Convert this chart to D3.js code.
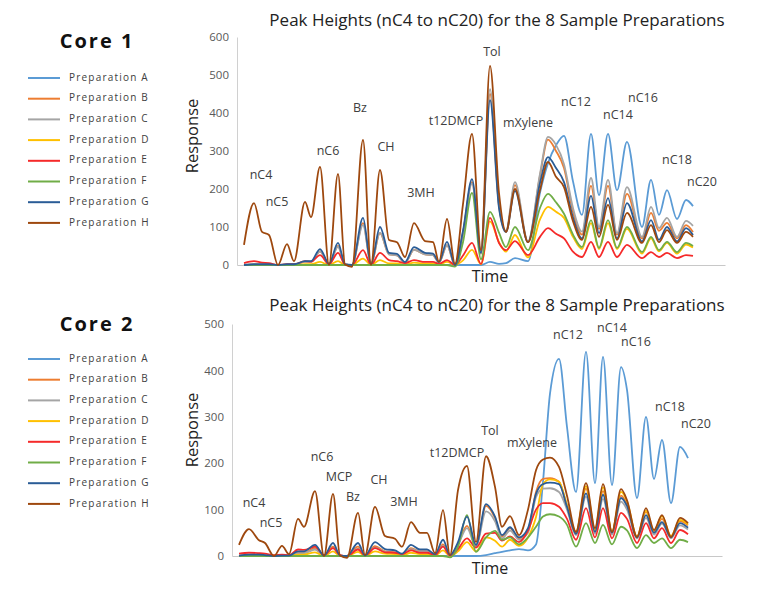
<!DOCTYPE html>
<html><head><meta charset="utf-8">
<script src="https://cdn.jsdelivr.net/npm/d3@7"></script>
<style>body{margin:0;background:#fff;} svg{display:block;font-family:"Open Sans",sans-serif;}</style>
</head><body>
<script>
const seriesNames = ["Preparation A","Preparation B","Preparation C","Preparation D","Preparation E","Preparation F","Preparation G","Preparation H"];
const colors = ["#5b9bd5","#ed7d31","#a5a5a5","#ffc000","#f52a2a","#70ad47","#2a5c96","#9e480e"];

// ---------- Core 1 ----------
const times1 = [7,17,25,32,41,50,57,68,74,83,92,101,108,115,126,134,143,152,160,168,177,188,196,202,210,218,226,235,244,253,262,269,278,291,303,311,319,327,336,345,354,362,371,380,390,405,414,422,430,440,449,456];
const c1A = [0,0,0,0,0,0,0,0,0,0,0,0,0,0,0,0,0,0,0,0,0,0,0,0,0,0,0,0,0, 8,3,5,18,10,190,268,315,340,220,132,345,184,345,197,324,100,224,132,197,121,171,155];
const c1B = [0,1,1,1,0,1,1,8,8,36,2,50,1,0,110,2,84,28,25,6,40,28,26,6,52,0,85,218,30,450,155,88,210,60,235,330,300,255,140,80,208,95,208,80,187,70,137,90,111,70,105,87];
const c1C = [0,1,1,1,0,1,1,8,8,35,2,48,1,0,105,2,85,28,25,6,40,28,26,6,52,0,85,215,30,463,160,90,218,62,240,337,316,265,150,88,229,100,224,84,205,74,153,97,124,74,116,103];
const c1D = [0,1,1,1,0,0,0,2,2,8,0,10,0,0,17,0,13,4,4,1,6,4,4,1,8,0,12,40,2,115,60,35,79,20,120,153,140,124,74,42,110,42,110,42,95,30,70,36,58,30,54,46];
const c1E = [5,10,6,5,0,2,2,10,9,26,2,32,1,0,39,1,32,13,10,5,13,8,8,3,13,0,25,58,3,124,58,39,63,26,74,97,82,70,35,21,61,21,61,21,53,18,34,21,32,18,26,24];
const c1F = [0,0,0,0,0,0,0,0,0,0,0,0,0,0,0,0,0,0,0,0,0,0,0,0,0, -4,60,190,15,140,85,47,100,39,150,187,165,135,80,47,118,45,118,45,100,34,74,39,61,34,58,50];
const c1G = [0,2,2,2,0,2,2,10,10,42,3,58,2,0,124,2,100,32,29,8,47,32,30,8,61,0,90,226,32,434,150,87,195,60,216,284,255,218,125,70,182,84,176,70,163,62,118,66,100,62,97,79];
const c1H = [53,163,87,79,0,55,10,166,126,258,0,240,1,-5,329,0,250,66,60,21,110,63,60,8,121,3,160,345,39,524,189,87,200,60,197,271,232,205,115,66,153,74,158,66,137,58,105,60,92,58,87,74];
const ticks1 = [0,100,200,300,400,500,600];
const peaks1 = ["nC4","nC5","nC6","Bz","CH","3MH","t12DMCP","Tol","mXylene","nC12","nC14","nC16","nC18","nC20"];
const peakPos1 = [[24,234],[40,163],[91,297],[123,411],[149,308],[184,189],[219,376],[255,558],[291,371],[339,426],[381,392],[406,439],[440,274],[465,218]];

// ---------- Core 2 ----------
const times2 = [7,17,27,33,42,50,57,66,72,83,92,101,108,115,126,133,143,153,163,170,179,188,195,203,211,218,226,235,244,254,263,270,278,287,296,304,311,318,327,335,344,354,363,371,380,389,395,405,414,422,430,439,448,456];
const c2A = [0,0,0,0,0,0,0,0,0,0,0,0,0,0,0,0,0,0,0,0,0,0,0,0,0,0,0,0,0, 2,6,9,12,15,12,25,160,350,425,278,138,440,157,429,153,407,358,125,300,166,250,114,235,211];
const c2B = [0,2,2,1,0,1,1,7,7,17,1,20,1,0,20,1,21,10,8,3,17,10,10,3,25,1,25,65,22,108,82,42,60,38,55,138,166,168,160,108,50,145,55,140,52,130,112,42,95,52,80,42,75,66];
const c2C = [0,1,1,1,0,1,1,6,6,14,1,17,1,0,16,1,18,9,7,3,15,9,9,2,22,1,24,60,20,96,75,38,55,35,50,127,145,146,138,100,45,128,48,123,46,117,100,38,82,46,70,38,66,57];
const c2D = [0,1,1,1,0,0,0,3,3,8,0,10,0,0,9,0,10,5,4,1,7,4,4,1,12,0,10,30,10,40,33,20,35,22,40,84,155,165,160,110,52,150,57,148,52,138,118,42,98,54,86,43,78,68];
const c2E = [5,7,6,5,2,3,2,14,13,20,2,17,2,0,14,1,17,8,7,4,12,7,7,2,20,1,15,38,18,48,50,33,42,30,55,100,114,114,106,80,35,103,40,103,38,93,80,28,71,38,60,28,56,47];
const c2F = [0,0,0,0,0,0,0,0,0,0,0,0,0,0,0,0,0,0,0,0,0,0,0,0,0, -3,20,88,9,40,54,35,40,25,40,63,85,90,85,67,20,71,28,67,25,63,55,17,45,28,38,17,35,30];
const c2G = [1,3,3,2,0,1,1,10,10,24,1,28,1,0,28,1,30,15,12,5,24,14,14,4,35,2,30,85,24,112,85,45,62,40,60,134,155,158,155,106,48,135,52,132,50,125,108,40,88,50,73,40,71,61];
const c2H = [24,58,34,28,0,22,4,80,63,140,0,134,1,-4,93,2,106,43,37,20,73,50,50,6,99,2,142,194,30,215,149,63,86,45,100,185,208,212,192,130,52,157,60,155,52,144,120,41,103,56,88,41,82,71];
const ticks2 = [0,100,200,300,400,500];
const peaks2 = ["nC4","nC5","nC6","MCP","Bz","CH","3MH","t12DMCP","Tol","mXylene","nC12","nC14","nC16","nC18","nC20"];
const peakPos2 = [[22,113],[39,70],[90,212],[107,169],[121,125],[147,162],[172,115],[225,221],[258,267],[300,243],[336,475],[380,491],[404,460],[438,320],[464,283]];

const W = 760, H = 590;
const svg = d3.select("body").append("svg").attr("width", W).attr("height", H);

function panel(opt) {
  const {times, series, ticks, peaks, peakPos, x0, x1, y0, y1, ymax, title, titleY, core, coreY, legY, respY, timeY} = opt;
  const x = d3.scaleLinear().domain([0, x1 - x0]).range([x0, x1]);
  const y = d3.scaleLinear().domain([0, ymax]).range([y0, y1]);
  const g = svg.append("g");

  const ya = g.append("g").attr("transform", `translate(${x0},0)`)
    .call(d3.axisLeft(y).tickValues(ticks).tickSize(0).tickPadding(8).tickSizeOuter(0));
  ya.select(".domain").attr("stroke", "#d0d0d0").attr("stroke-width", 1);
  ya.selectAll("text").attr("fill", "#595959").style("font-size", "11.5px").style("font-family", "Open Sans, sans-serif");
  const xa = g.append("g").attr("transform", `translate(0,${y0})`)
    .call(d3.axisBottom(x).tickValues([]).tickSizeOuter(0));
  xa.select(".domain").attr("stroke", "#c8c8c8").attr("stroke-width", 1.2);

  const line = d3.line().x(d => x(d[0])).y(d => y(d[1])).curve(d3.curveMonotoneX);
  series.forEach((vals, i) => {
    const pts = times.map((t, k) => [t, vals[k]]);
    g.append("path").attr("d", line(pts)).attr("fill", "none")
      .attr("stroke", colors[i]).attr("stroke-width", 1.8).attr("stroke-linejoin", "round");
  });

  peaks.forEach((p, i) => {
    g.append("text").attr("x", x(peakPos[i][0])).attr("y", y(peakPos[i][1]))
      .attr("text-anchor", "middle").attr("dominant-baseline", "middle")
      .attr("fill", "#404040").style("font-size", "12.5px").text(p);
  });

  g.append("text").attr("x", 497).attr("y", titleY).attr("text-anchor", "middle")
    .attr("fill", "#222").style("font-size", "17px").text(title);
  g.append("text").attr("transform", `translate(194,${respY}) rotate(-90)`).attr("text-anchor", "middle")
    .attr("dominant-baseline", "middle").attr("fill", "#222").style("font-size", "16.5px").text("Response");
  g.append("text").attr("x", 490).attr("y", timeY).attr("text-anchor", "middle").attr("dominant-baseline", "middle")
    .attr("fill", "#222").style("font-size", "16px").text("Time");

  g.append("text").attr("x", 97).attr("y", coreY).attr("text-anchor", "middle").attr("dominant-baseline", "middle")
    .attr("fill", "#111").style("font-size", "20px").style("font-weight", "bold").style("letter-spacing", "2px").text(core);
  seriesNames.forEach((n, i) => {
    const ly = legY + i * 20.7;
    g.append("line").attr("x1", 28).attr("x2", 60).attr("y1", ly).attr("y2", ly)
      .attr("stroke", colors[i]).attr("stroke-width", 2);
    g.append("text").attr("x", 69).attr("y", ly).attr("dominant-baseline", "middle")
      .attr("fill", "#404040").style("font-size", "10px").style("letter-spacing", "1.2px").text(n);
  });
}

panel({times: times1, series: [c1A,c1B,c1C,c1D,c1E,c1F,c1G,c1H], ticks: ticks1, peaks: peaks1, peakPos: peakPos1,
  x0: 237, x1: 725, y0: 265, y1: 37, ymax: 600,
  title: "Peak Heights (nC4 to nC20) for the 8 Sample Preparations", titleY: 26,
  core: "Core 1", coreY: 43, legY: 78, respY: 136, timeY: 278});

panel({times: times2, series: [c2A,c2B,c2C,c2D,c2E,c2F,c2G,c2H], ticks: ticks2, peaks: peaks2, peakPos: peakPos2,
  x0: 232, x1: 722, y0: 556, y1: 324, ymax: 500,
  title: "Peak Heights (nC4 to nC20) for the 8 Sample Preparations", titleY: 311,
  core: "Core 2", coreY: 326, legY: 359, respY: 430, timeY: 570});
</script>
</body></html>
